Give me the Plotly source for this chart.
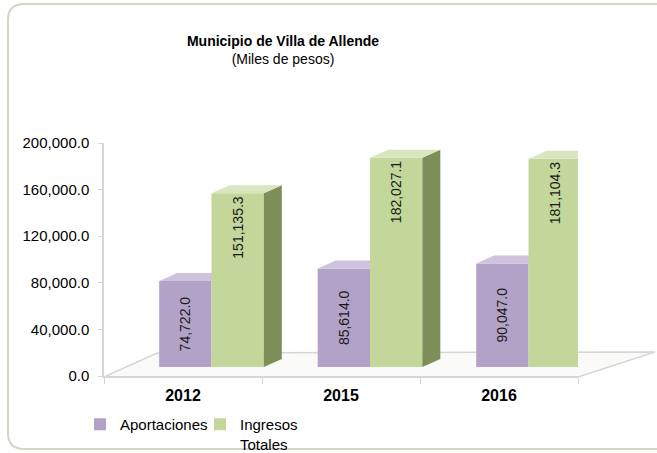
import plotly.graph_objects as go

# ---- data ----
years = ["2012", "2015", "2016"]
aportaciones = [74722.0, 85614.0, 90047.0]
ingresos = [151135.3, 182027.1, 181104.3]
y_ticks = [0, 40000, 80000, 120000, 160000, 200000]
y_ticklabels = ["0.0", "40,000.0", "80,000.0", "120,000.0", "160,000.0", "200,000.0"]

# ---- layout geometry ----
W, H = 657, 453
L, R, T, B = 104, 79, 143, 77
pw, ph = W - L - R, H - T - B


def px(x):
    return (x - L) / pw


def py(y):
    return (H - B - y) / ph


bw = 0.33          # bar width (category units)
x2range = [-0.678, 2.312]
y2range = [-7826, 194783]
dx, dy = 0.1136, 6957   # 3D depth offsets

FONT = "Liberation Sans, Arial, sans-serif"
purple, purple_top = "#B3A2C7", "#CEC2DD"
green, green_top, green_side = "#C4D79B", "#D9E5BF", "#7E8E59"

fig = go.Figure()

# invisible trace to establish category axis
fig.add_trace(go.Scatter(x=years, y=[0, 0, 0], mode="markers",
                         marker=dict(opacity=0), showlegend=False,
                         hoverinfo="skip", xaxis="x", yaxis="y"))

idx = list(range(len(years)))

# purple bars (subplot x2/y2)
fig.add_trace(go.Bar(x=idx, y=aportaciones, width=bw, offset=-bw,
                     name="Aportaciones", marker=dict(color=purple, line=dict(width=0)),
                     texttemplate="%{y:,.1f}", textposition="inside", textangle=-90,
                     insidetextanchor="middle",
                     textfont=dict(family=FONT, size=14, color="#1a1a1a"),
                     xaxis="x2", yaxis="y2", legendrank=1))
ptx, pty = [], []
for i, v in zip(idx, aportaciones):
    ptx += [i - bw, i - bw + dx, i + dx, i, i - bw, None]
    pty += [v, v + dy, v + dy, v, v, None]
fig.add_trace(go.Scatter(x=ptx, y=pty, fill="toself", fillcolor=purple_top,
                         mode="lines", line=dict(width=0), showlegend=False,
                         hoverinfo="skip", xaxis="x2", yaxis="y2"))

# green bars (subplot x3/y3, drawn above)
fig.add_trace(go.Bar(x=idx, y=ingresos, width=bw, offset=0,
                     name="Ingresos<br>Totales", marker=dict(color=green, line=dict(width=0)),
                     texttemplate="%{y:,.1f}", textposition="inside", textangle=-90,
                     insidetextanchor="end",
                     textfont=dict(family=FONT, size=14, color="#1a1a1a"),
                     xaxis="x3", yaxis="y3", legendrank=2))
gsx, gsy, gtx, gty = [], [], [], []
for i, v in zip(idx, ingresos):
    gsx += [i + bw, i + bw + dx, i + bw + dx, i + bw, i + bw, None]
    gsy += [0, dy, v + dy, v, 0, None]
    gtx += [i, i + dx, i + bw + dx, i + bw, i, None]
    gty += [v, v + dy, v + dy, v, v, None]
fig.add_trace(go.Scatter(x=gsx, y=gsy, fill="toself", fillcolor=green_side,
                         mode="lines", line=dict(width=0), showlegend=False,
                         hoverinfo="skip", xaxis="x3", yaxis="y3"))
fig.add_trace(go.Scatter(x=gtx, y=gty, fill="toself", fillcolor=green_top,
                         mode="lines", line=dict(width=0), showlegend=False,
                         hoverinfo="skip", xaxis="x3", yaxis="y3"))

# ---- decorative shapes ----
r = 16
bx0, by0, bx1, by1 = 8, 4, 690, 449
border_path = (
    f"M {px(bx0)},{py(by0 + r)} Q {px(bx0)},{py(by0)} {px(bx0 + r)},{py(by0)} "
    f"L {px(bx1 - r)},{py(by0)} Q {px(bx1)},{py(by0)} {px(bx1)},{py(by0 + r)} "
    f"L {px(bx1)},{py(by1 - r)} Q {px(bx1)},{py(by1)} {px(bx1 - r)},{py(by1)} "
    f"L {px(bx0 + r)},{py(by1)} Q {px(bx0)},{py(by1)} {px(bx0)},{py(by1 - r)} Z"
)
floor_pts = [(104, 377), (578, 377), (655, 352), (157, 353)]
floor_path = "M " + " L ".join(f"{px(a)},{py(b)}" for a, b in floor_pts) + " Z"

shapes = [
    dict(type="path", path=border_path, xref="paper", yref="paper",
         line=dict(color="#D3D5C6", width=2), fillcolor="rgba(0,0,0,0)", layer="below"),
    dict(type="path", path=floor_path, xref="paper", yref="paper",
         line=dict(color="#D6D6D6", width=1.5), fillcolor="#FAFAF8", layer="below"),
]

fig.update_layout(
    width=W, height=H,
    margin=dict(l=L, r=R, t=T, b=B, pad=0, autoexpand=False),
    paper_bgcolor="white", plot_bgcolor="rgba(0,0,0,0)",
    font=dict(family=FONT, color="#000000"),
    barmode="overlay",
    shapes=shapes,
    title=dict(text="<b>Municipio de Villa de Allende</b><br><span style='font-size:14px'>(Miles de pesos)</span>",
               x=283 / W, xanchor="center", xref="container",
               y=1 - 46 / H, yanchor="top", yref="container",
               font=dict(family=FONT, size=14, color="#000000")),
    xaxis=dict(type="category", range=[-0.5, 2.5], showline=True, linecolor="#D6D6D6",
               linewidth=1.5, ticks="outside", tickson="boundaries", ticklen=6,
               tickcolor="#D6D6D6", showgrid=False, zeroline=False, automargin=False,
               tickfont=dict(family=FONT, size=16, color="#000000", weight="bold"),
               ticklabelstandoff=4, fixedrange=True),
    yaxis=dict(range=[0, 200000], tickvals=y_ticks, ticktext=y_ticklabels,
               showline=True, linecolor="#D6D6D6", linewidth=1.5, ticks="outside",
               ticklen=4, tickcolor="#D6D6D6", showgrid=False, zeroline=False,
               automargin=False,
               tickfont=dict(family=FONT, size=15, color="#000000"),
               ticklabelstandoff=6, fixedrange=True),
    xaxis2=dict(overlaying="x", range=x2range, visible=False, fixedrange=True),
    yaxis2=dict(overlaying="y", range=y2range, visible=False, fixedrange=True),
    xaxis3=dict(overlaying="x", range=x2range, visible=False, fixedrange=True),
    yaxis3=dict(overlaying="y", range=y2range, visible=False, fixedrange=True),
    showlegend=True,
    legend=dict(orientation="h", x=80 / W, y=1 - 408 / H, xref="container", yref="container",
                xanchor="left", yanchor="top", entrywidth=75, valign="top",
                font=dict(family=FONT, size=15, color="#000000"),
                bgcolor="rgba(0,0,0,0)", itemwidth=30, traceorder="normal"),
)

fig.write_html("out.html", config={"displayModeBar": False},
               post_script="document.body.style.margin='0';")
